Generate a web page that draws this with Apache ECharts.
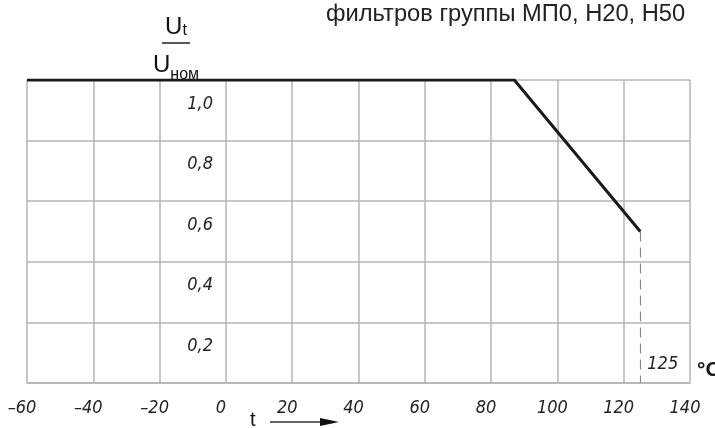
<!DOCTYPE html>
<html>
<head>
<meta charset="utf-8">
<script src="https://cdn.jsdelivr.net/npm/echarts@6/dist/echarts.min.js"></script>
<style>
    html, body { margin: 0; padding: 0; background: #fff; }
    #chart { width: 715px; height: 428px; }
</style>
</head>
<body>
<div id="chart"></div>
<script>
// derating curve: U_t / U_nom vs temperature
const tempC = [-60, 87, 125];
const voltageRatio = [1.0, 1.0, 0.5];
const ratedTemp = 125;
const ratedRatio = 0.5;
const titleText = "фильтров группы МП0, Н20, Н50";

const gridColor = "#b4b4b4";
const tickFont = "'DejaVu Sans Condensed', 'DejaVu Sans', sans-serif";
const textFont = "'Liberation Sans', Arial, sans-serif";

const chart = echarts.init(document.getElementById("chart"));

const curve = tempC.map((t, i) => [t, voltageRatio[i]]);

const option = {
    animation: false,
    title: {
        text: titleText,
        left: 321,
        top: -3,
        textStyle: {
            fontFamily: textFont,
            fontSize: 23.7,
            fontWeight: "normal",
            color: "#222"
        }
    },
    grid: {
        left: 27,
        right: 25,
        top: 80,
        bottom: 45,
        outerBoundsMode: "none"
    },
    xAxis: {
        type: "value",
        min: -60,
        max: 140,
        interval: 20,
        name: "°C",
        nameLocation: "end",
        nameGap: 7,
        nameTextStyle: {
            fontFamily: textFont,
            fontSize: 21,
            fontWeight: "bold",
            color: "#111",
            verticalAlign: "bottom",
            padding: [0, 0, 2, 0]
        },
        axisLine: { onZero: false, lineStyle: { color: gridColor, width: 1.5 } },
        axisTick: { show: false },
        splitLine: { show: true, lineStyle: { color: gridColor, width: 1.5 } },
        axisLabel: {
            margin: 16,
            fontFamily: tickFont,
            fontStyle: "italic",
            fontSize: 18,
            color: "#222",
            padding: [0, 10, 0, 0],
            formatter: v => String(v).replace("-", "–")
        }
    },
    yAxis: {
        type: "value",
        min: 0,
        max: 1,
        interval: 0.2,
        // axis sits on t = 0: (0 - (-60)) / 200 of the 663 px plot width
        offset: -199,
        name: "{u|U}{s1|t}\n{bar|}\n{u2|U}{s2|ном}",
        nameLocation: "end",
        nameGap: -3,
        nameTextStyle: {
            align: "center",
            verticalAlign: "bottom",
            padding: [0, 100, 0, 0],
            rich: {
                u: { fontFamily: textFont, fontSize: 24, lineHeight: 24, color: "#111", align: "center" },
                s1: { fontFamily: textFont, fontSize: 16, lineHeight: 12, verticalAlign: "bottom", color: "#111", align: "center" },
                bar: { width: 28, height: 1.5, lineHeight: 8, backgroundColor: "#222", align: "center" },
                u2: { fontFamily: textFont, fontSize: 24, lineHeight: 36, color: "#111", align: "center" },
                s2: { fontFamily: textFont, fontSize: 16, lineHeight: 29, verticalAlign: "bottom", color: "#111", align: "center" }
            }
        },
        axisLine: { show: false, onZero: false },
        axisTick: { show: false },
        splitLine: { show: true, lineStyle: { color: gridColor, width: 1.5 } },
        axisLabel: {
            margin: 13,
            fontFamily: tickFont,
            fontStyle: "italic",
            fontSize: 18,
            color: "#222",
            verticalAlign: "top",
            padding: [15, 0, 0, 0],
            formatter: v => (v === 0 ? "" : v.toFixed(1).replace(".", ","))
        }
    },
    graphic: [
        {
            type: "text",
            left: 250,
            top: 410,
            style: {
                text: "t",
                fontFamily: textFont,
                fontSize: 20,
                fill: "#111"
            }
        },
        {
            type: "line",
            shape: { x1: 270, y1: 422, x2: 326, y2: 422 },
            style: { stroke: "#333", lineWidth: 1.5 }
        },
        {
            type: "polygon",
            shape: { points: [[320, 418], [339, 422], [320, 426]] },
            style: { fill: "#111" }
        }
    ],
    series: [
        {
            name: "Ut/Uном",
            type: "line",
            data: curve,
            showSymbol: false,
            z: 5,
            lineStyle: { color: "#1a1a1a", width: 3 },
            markLine: {
                silent: true,
                symbol: ["none", "none"],
                label: { show: false },
                lineStyle: { type: [10, 6], color: "#8c8c8c", width: 1.2 },
                data: [
                    [
                        { coord: [ratedTemp, ratedRatio] },
                        { coord: [ratedTemp, 0] }
                    ]
                ]
            },
            markPoint: {
                silent: true,
                symbol: "circle",
                symbolSize: 0,
                data: [{ coord: [ratedTemp, 0.06] }],
                label: {
                    show: true,
                    position: "right",
                    distance: 7,
                    formatter: String(ratedTemp),
                    fontFamily: tickFont,
                    fontStyle: "italic",
                    fontSize: 18,
                    color: "#222"
                }
            }
        }
    ]
};

chart.setOption(option);
</script>
</body>
</html>
